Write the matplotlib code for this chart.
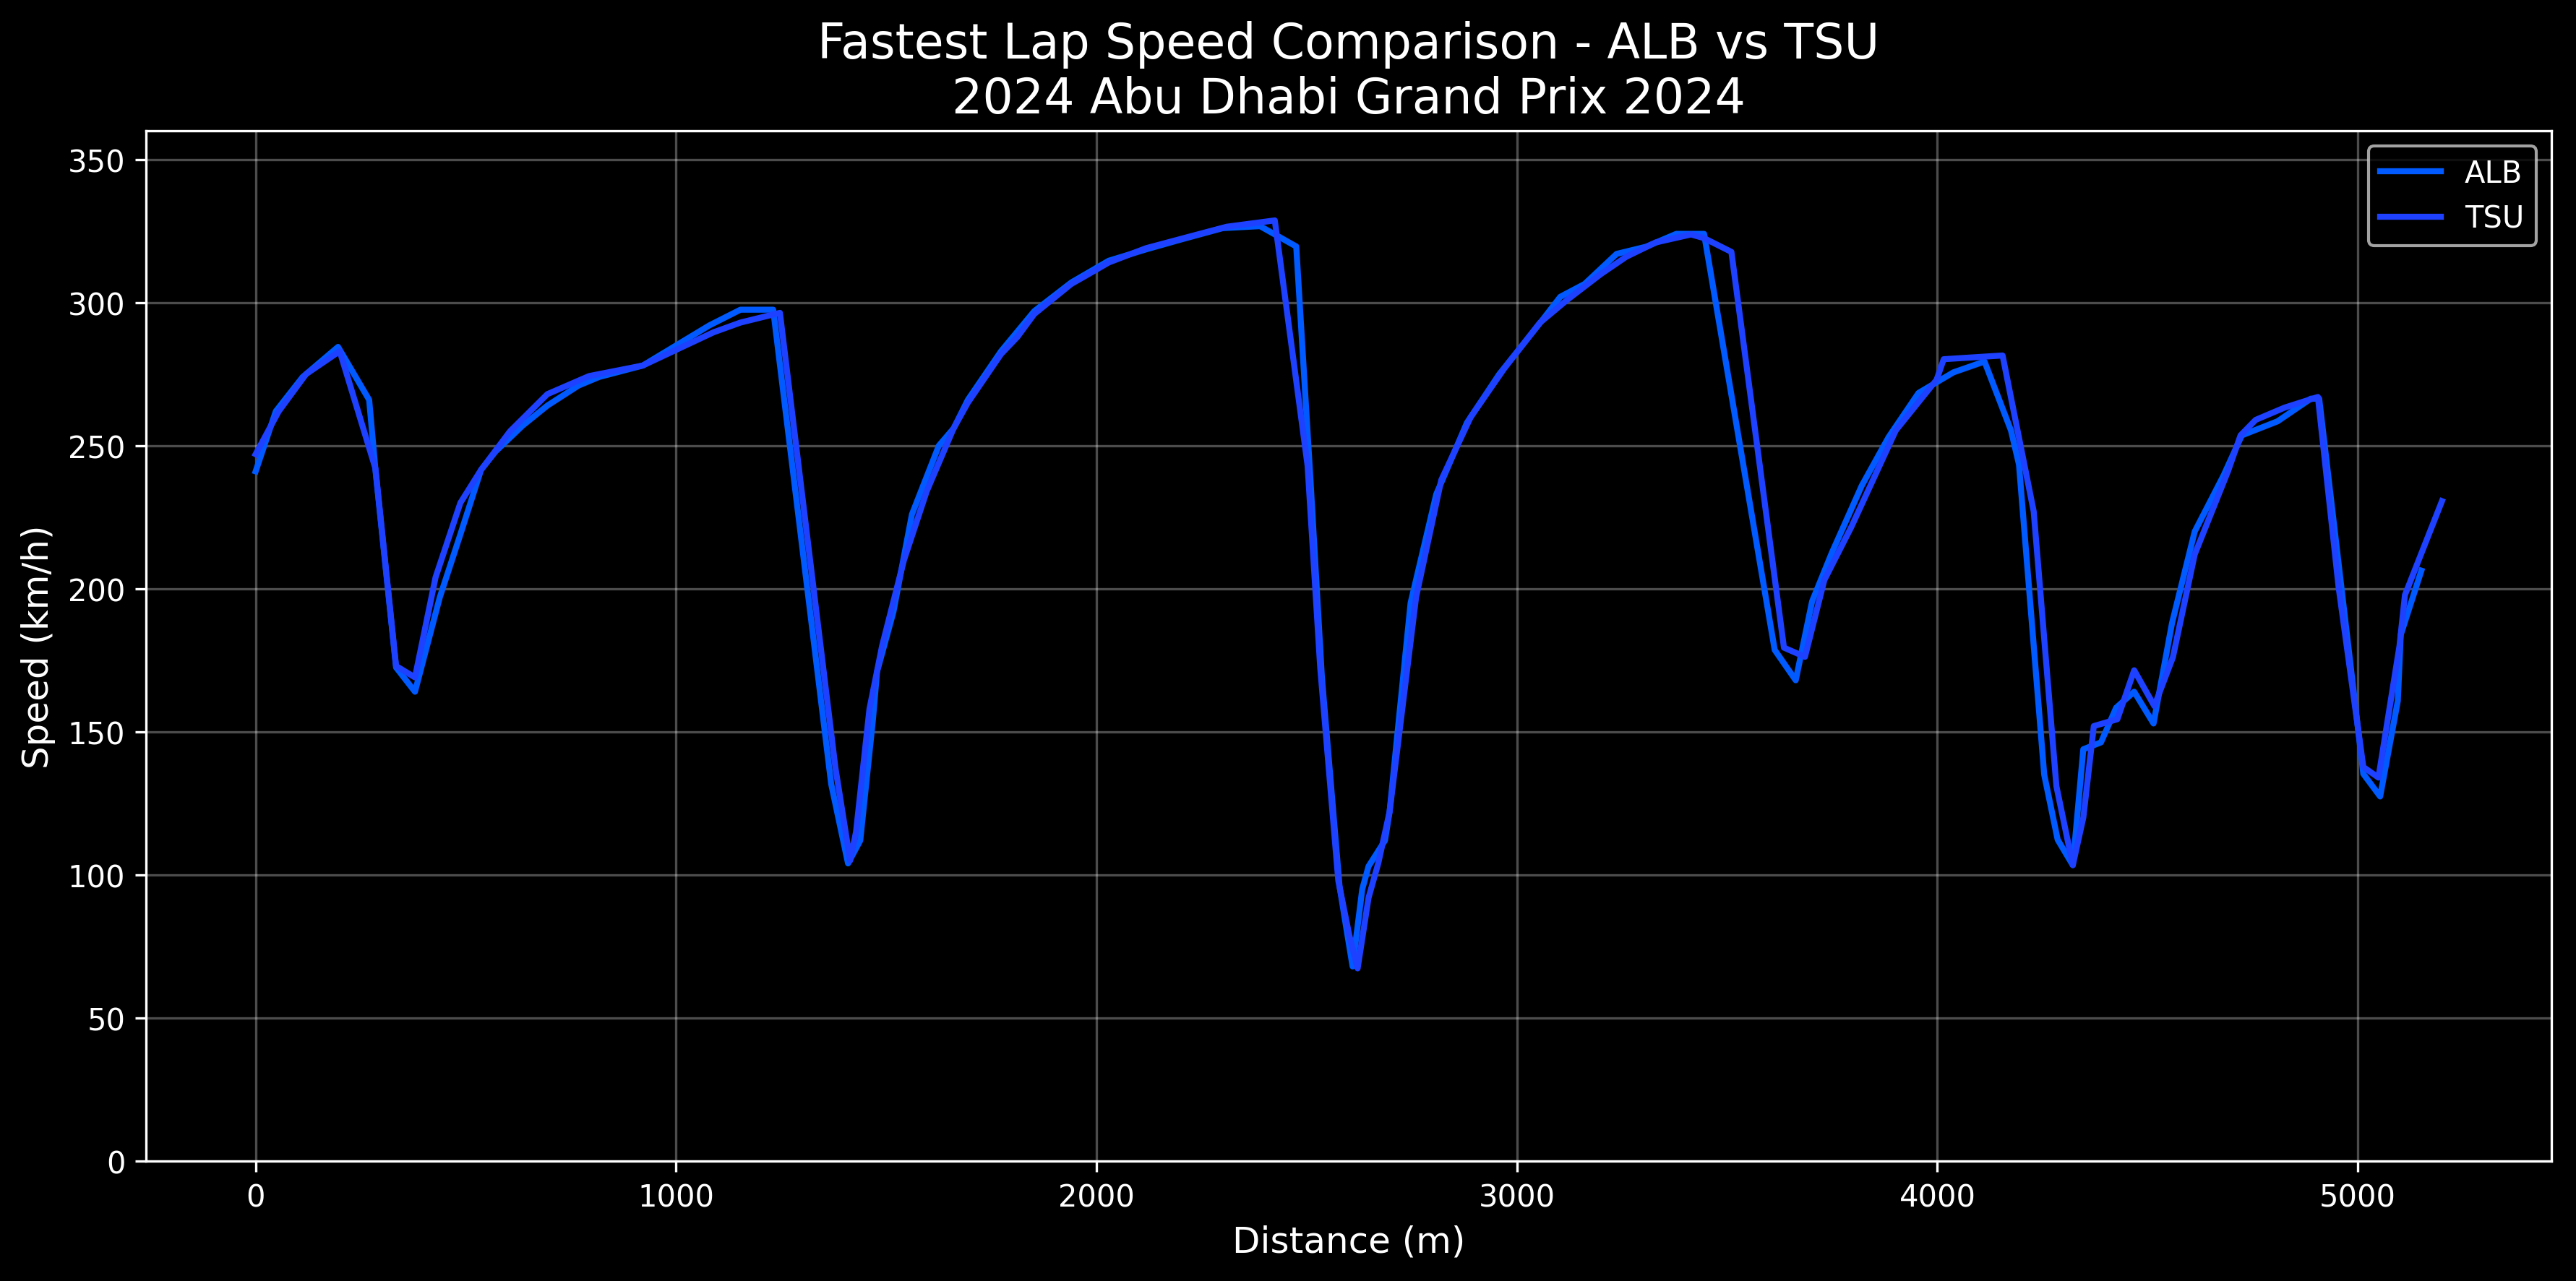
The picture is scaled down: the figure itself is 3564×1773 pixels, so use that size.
import matplotlib
matplotlib.use("Agg")
import matplotlib.pyplot as plt

# Vueltas rapidas - distancia (m) y velocidad (km/h)
alb_dist = [0, 48, 112, 196, 270, 285, 334, 379, 438, 487, 536, 571, 635, 694,
            768, 817, 921, 1079, 1153, 1231, 1369, 1409, 1438, 1468, 1478, 1517,
            1561, 1625, 1660, 1694, 1773, 1852, 1940, 2029, 2118, 2200, 2300,
            2389, 2475, 2509, 2536, 2578, 2609, 2632, 2647, 2686, 2697, 2747,
            2808, 2881, 2958, 3061, 3103, 3161, 3237, 3307, 3379, 3445, 3613,
            3663, 3702, 3749, 3820, 3884, 3955, 4038, 4112, 4175, 4194, 4254,
            4286, 4322, 4347, 4389, 4425, 4468, 4514, 4558, 4612, 4681, 4724,
            4809, 4888, 4908, 5013, 5053, 5095, 5102, 5151]
alb_speed = [241, 262, 274, 284.5, 266, 241.5, 172.5, 164, 197, 219, 241.5, 248,
             257, 264, 271, 274, 278, 292, 297.5, 297.5, 131.7, 104, 112, 154,
             171, 192, 226, 250, 256, 266, 283, 297, 307, 314.6, 318.6, 322, 326,
             326.7, 319.6, 237.6, 169, 96, 68, 95, 103, 112, 122, 195, 233, 258,
             275, 294, 302, 306.5, 317, 319.5, 324, 324, 178.6, 168, 195.6, 212.6,
             236, 253, 268.4, 275.6, 279.4, 255.3, 243.4, 135, 112.3, 103.4,
             143.9, 146.3, 158.4, 164, 152.9, 188, 220, 239.7, 253.6, 258.5,
             266.4, 266.4, 135.3, 127.4, 160.8, 183.9, 206.3]

tsu_dist = [0, 55, 120, 200, 285, 334, 379, 428, 487, 536, 605, 694, 793, 921,
            1089, 1153, 1247, 1379, 1414, 1428, 1460, 1490, 1542, 1596, 1660,
            1694, 1773, 1812, 1852, 1940, 1970, 2029, 2118, 2220, 2310, 2424,
            2502, 2532, 2575, 2601, 2621, 2647, 2670, 2697, 2760, 2820, 2890,
            2970, 3055, 3120, 3200, 3260, 3330, 3414, 3445, 3510, 3635, 3685,
            3731, 3795, 3901, 3998, 4015, 4155, 4229, 4283, 4322, 4347, 4372,
            4428, 4468, 4516, 4560, 4612, 4691, 4721, 4757, 4826, 4905, 4954,
            5013, 5049, 5099, 5112, 5200]
tsu_speed = [247, 262, 275, 283, 242, 173, 169, 204, 230, 241.5, 255, 268, 274.3,
             278, 289.6, 293, 296.4, 137.4, 105, 115, 158, 180, 210, 234, 256,
             265, 282, 288, 296, 306.5, 309, 314, 319, 323, 326.5, 328.7, 243,
             172.5, 98, 79, 67.3, 92, 104, 122, 197, 238, 260, 277, 293, 301,
             310, 316, 321, 323.8, 322.5, 317.7, 179.4, 176.2, 203, 221.5, 255.3,
             273, 280.2, 281.5, 227, 131, 103.4, 120, 152, 154.4, 171.5, 159,
             176, 212, 241, 253.6, 259, 263.3, 267, 200.8, 137.7, 134, 180,
             197.8, 230.6]

pilotos = ["ALB", "TSU"]
colores = ["#005AFF", "#1E41FF"]

plt.style.use("dark_background")
fig, ax = plt.subplots(figsize=(11.88, 5.913))

ax.plot(alb_dist, alb_speed, color=colores[0], linewidth=2, label=pilotos[0])
ax.plot(tsu_dist, tsu_speed, color=colores[1], linewidth=2, label=pilotos[1])

ax.set_title(f"Fastest Lap Speed Comparison - {pilotos[0]} vs {pilotos[1]}\n"
             "2024 Abu Dhabi Grand Prix 2024", fontsize=16)
ax.set_xlabel("Distance (m)", fontsize=12)
ax.set_ylabel("Speed (km/h)", fontsize=12)
ax.set_ylim(0, 360)
ax.grid(True, alpha=0.3)
ax.legend(loc="upper right")

fig.subplots_adjust(left=0.0568, right=0.9904, top=0.8974, bottom=0.0936)
plt.savefig("out.png", dpi=300)
plt.close()
